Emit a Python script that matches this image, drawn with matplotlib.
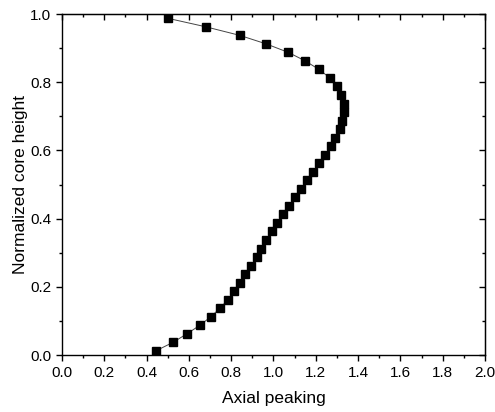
import matplotlib
matplotlib.use('Agg')
import matplotlib.pyplot as plt
from matplotlib.ticker import MultipleLocator, FormatStrFormatter

plt.rcParams['font.family'] = ['Liberation Sans', 'DejaVu Sans']

# 40 axial nodes, bottom to top
height = [(i + 0.5) / 40 for i in range(40)]
peaking = [0.444, 0.525, 0.591, 0.652, 0.704, 0.747, 0.785, 0.813, 0.840, 0.867,
           0.894, 0.922, 0.940, 0.965, 0.993, 1.017, 1.045, 1.073, 1.100, 1.130,
           1.158, 1.187, 1.215, 1.243, 1.272, 1.290, 1.314, 1.324, 1.333, 1.333,
           1.320, 1.300, 1.267, 1.215, 1.150, 1.070, 0.965, 0.840, 0.680, 0.500]

fig = plt.figure(figsize=(4.95, 4.12), dpi=100)
ax = fig.add_axes([0.125, 0.138, 0.855, 0.828])

ax.plot(peaking, height, color='#444444', lw=0.7, marker='s', ms=5.2,
        mfc='black', mec='black')

ax.set_xlim(0, 2.0)
ax.set_ylim(0, 1.0)


def set_ticks(axis):
    axis.set_major_locator(MultipleLocator(0.2))
    axis.set_minor_locator(MultipleLocator(0.1))


set_ticks(ax.xaxis)
set_ticks(ax.yaxis)
ax.xaxis.set_major_formatter(FormatStrFormatter('%.1f'))
ax.yaxis.set_major_formatter(FormatStrFormatter('%.1f'))
ax.tick_params(which='both', direction='out', labelsize=11, pad=3)
ax.tick_params(which='major', length=4.5, width=1)
ax.tick_params(which='minor', length=2.5, width=1)

# mirrored ticks on top and right point inwards
top = ax.secondary_xaxis('top')
right = ax.secondary_yaxis('right')
set_ticks(top.xaxis)
set_ticks(right.yaxis)
for sec in (top, right):
    sec.tick_params(which='both', direction='in', labelleft=False,
                    labelright=False, labeltop=False, labelbottom=False)
    sec.tick_params(which='major', length=4.5, width=1)
    sec.tick_params(which='minor', length=2.5, width=1)

for s in ax.spines.values():
    s.set_linewidth(1)

ax.set_xlabel('Axial peaking', fontsize=12.5, labelpad=8)
ax.set_ylabel('Normalized core height', fontsize=12.5, labelpad=2)

fig.savefig('out.png', dpi=100)
